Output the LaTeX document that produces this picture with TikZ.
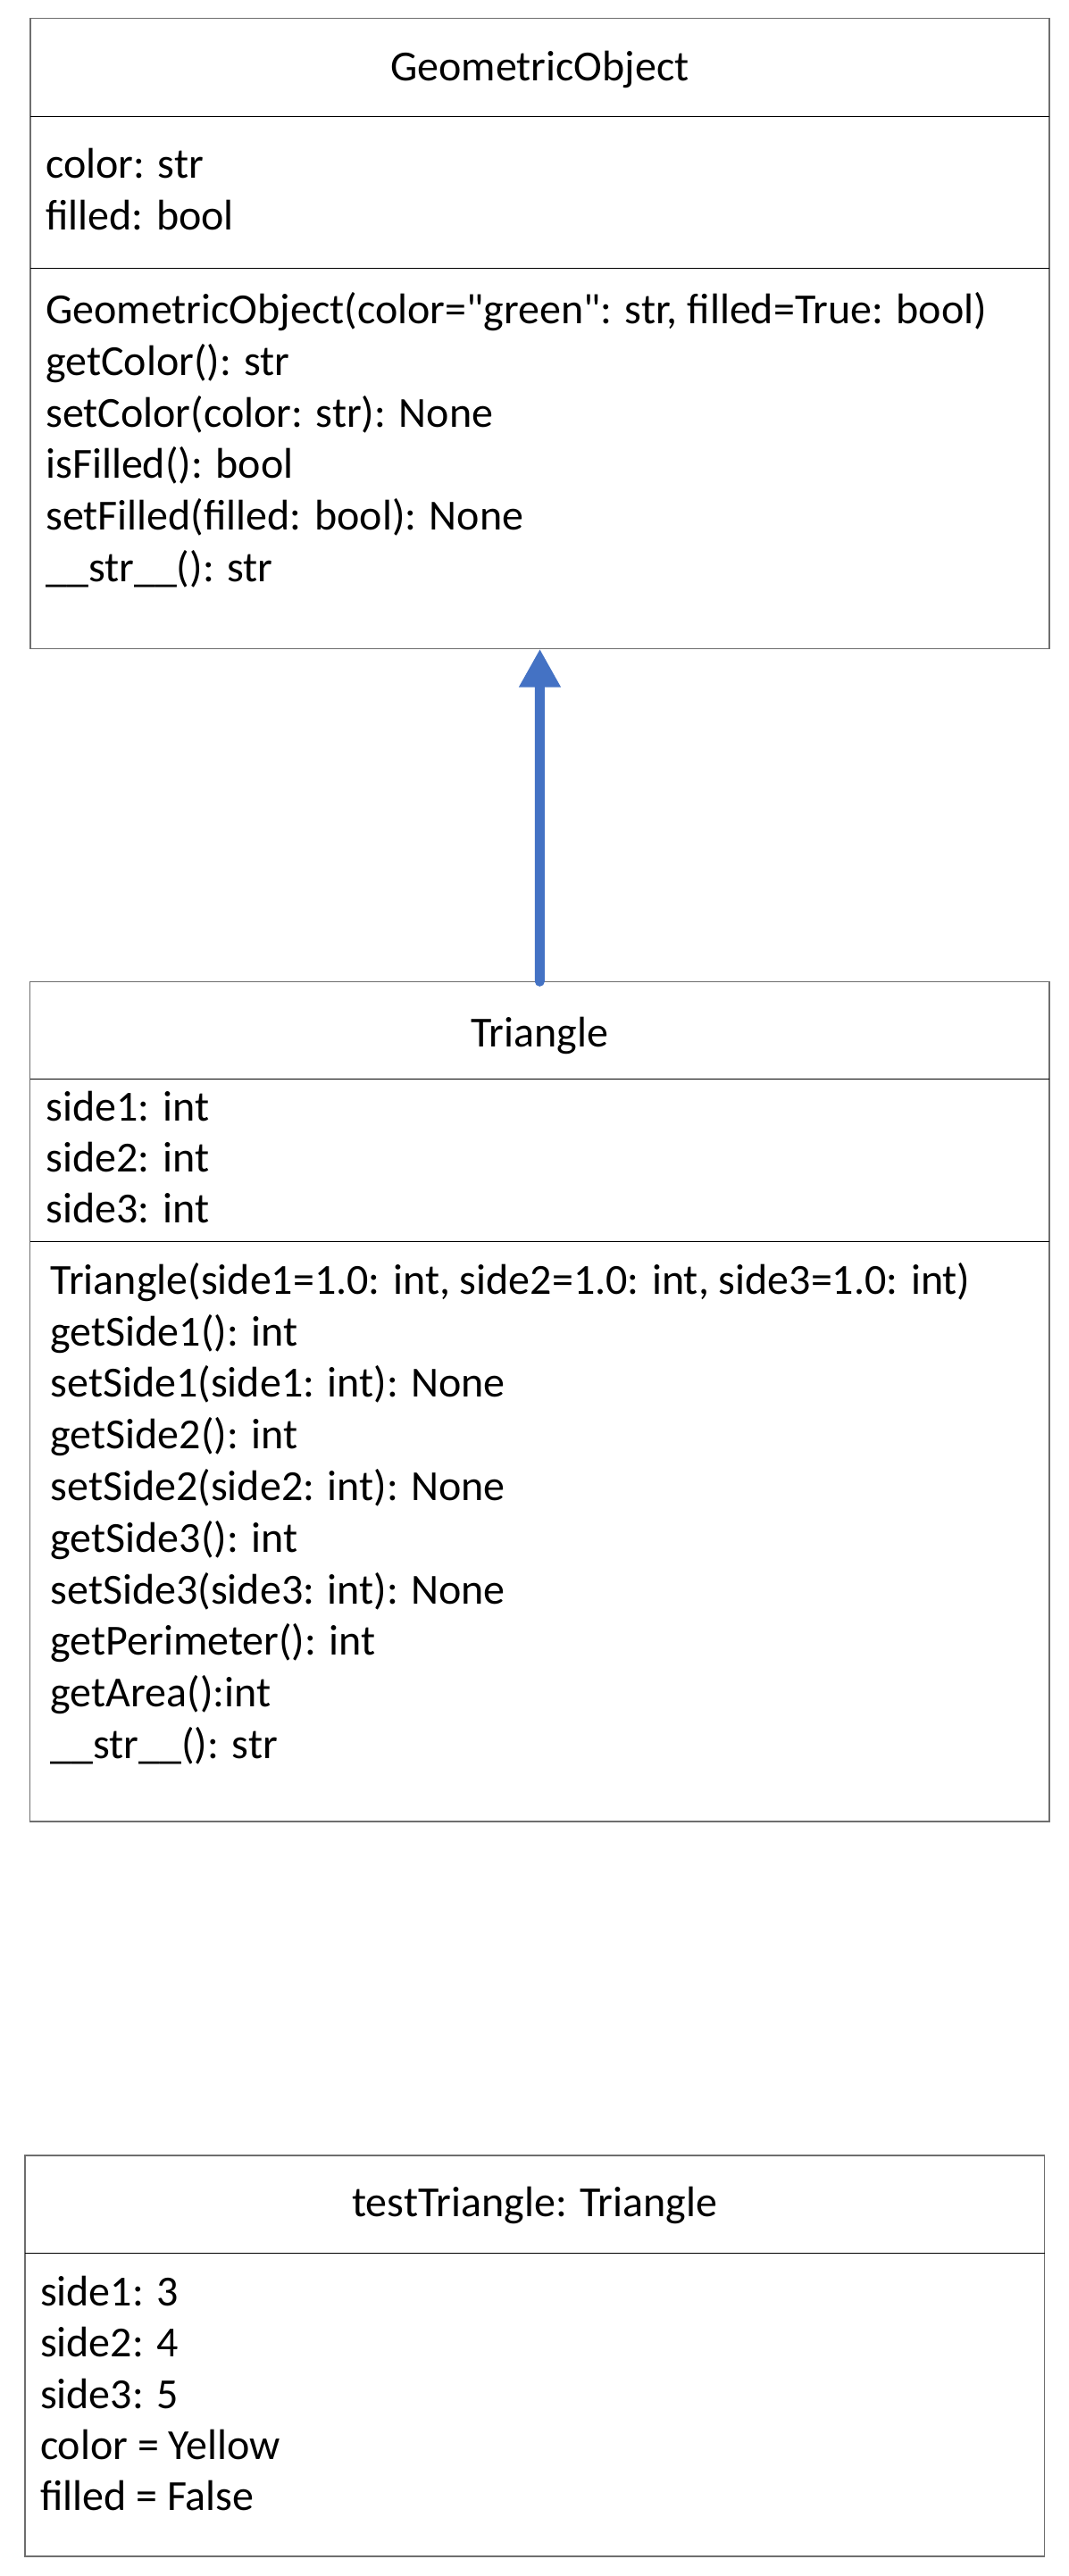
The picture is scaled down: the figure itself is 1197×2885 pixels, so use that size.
\documentclass[tikz,border=0pt]{standalone}
\usepackage{fontspec}
\newfontfamily\carl{Carlito}
\usetikzlibrary{arrows.meta}
\definecolor{umlblue}{HTML}{4472C4}
\definecolor{boxgray}{HTML}{6E6E6E}
\begin{document}
\begin{tikzpicture}[x=0.5pt,y=-0.5pt,
  umlbox/.style={draw=boxgray, line width=0.6pt, inner sep=0pt, outer sep=0pt, rectangle},
  divider/.style={draw=black, line width=0.5pt},
  txt/.style={anchor=base west, inner sep=0pt, outer sep=0pt, font=\carl\fontsize{24pt}{28.8pt}\selectfont},
  ttl/.style={anchor=base, inner sep=0pt, outer sep=0pt, font=\carl\fontsize{24pt}{28.8pt}\selectfont},
  inherit/.style={draw=umlblue, line width=5.5pt, line cap=round, -{Triangle[width=22pt,length=21.5pt]}}]
\fill[white] (0,0) rectangle (1197,2885);
\useasboundingbox (0,0) rectangle (1197,2885);

% ---------- GeometricObject ----------
\node[umlbox, minimum width=570.5pt, minimum height=353.1pt] (geo) at (604.5,373.6) {};
\draw[divider] (34,130.4) -- (1175,130.4);
\draw[divider] (34,300) -- (1175,300);
\node[ttl] (geoT) at (604.5,90.6) {GeometricObject};
\node[txt] (geoA1) at (51.3,199.6) {color: str};
\node[txt] (geoA2) at (51.3,257.6) {filled: bool};
\node[txt] (geoM1) at (51.3,362.5) {GeometricObject(color="green": str, filled=True: bool)};
\node[txt] (geoM2) at (51.3,420.3) {getColor(): str};
\node[txt] (geoM3) at (51.3,478.1) {setColor(color: str): None};
\node[txt] (geoM4) at (51.3,535.9) {isFilled(): bool};
\node[txt] (geoM5) at (51.3,593.7) {setFilled(filled: bool): None};
\node[txt] (geoM6) at (51.3,651.5) {\_\_str\_\_(): str};

% ---------- Triangle ----------
\node[umlbox, minimum width=570.65pt, minimum height=470.35pt] (tri) at (604.35,1569.65) {};
\draw[divider] (33.7,1208.3) -- (1175,1208.3);
\draw[divider] (33.7,1390) -- (1175,1390);
\node[ttl] (triT) at (604.35,1172) {Triangle};
\node[txt] (triA1) at (51.7,1255.7) {side1: int};
\node[txt] (triA2) at (51.7,1312.7) {side2: int};
\node[txt] (triA3) at (51.7,1369.3) {side3: int};
\node[txt] (triM1) at (56.7,1449.3) {Triangle(side1=1.0: int, side2=1.0: int, side3=1.0: int)};
\node[txt] (triM2) at (56.7,1507.1) {getSide1(): int};
\node[txt] (triM3) at (56.7,1564.9) {setSide1(side1: int): None};
\node[txt] (triM4) at (56.7,1622.7) {getSide2(): int};
\node[txt] (triM5) at (56.7,1680.5) {setSide2(side2: int): None};
\node[txt] (triM6) at (56.7,1738.3) {getSide3(): int};
\node[txt] (triM7) at (56.7,1796.1) {setSide3(side3: int): None};
\node[txt] (triM8) at (56.7,1853.9) {getPerimeter(): int};
\node[txt] (triM9) at (56.7,1911.7) {getArea():int};
\node[txt] (triM10) at (56.7,1969.5) {\_\_str\_\_(): str};

% ---------- testTriangle object ----------
\node[umlbox, minimum width=570.75pt, minimum height=224.5pt] (obj) at (598.75,2638.5) {};
\draw[divider] (28,2523.3) -- (1169.5,2523.3);
\node[ttl] (objT) at (598.75,2482) {testTriangle: Triangle};
\node[txt] (objA1) at (45,2582.7) {side1: 3};
\node[txt] (objA2) at (45,2639.9) {side2: 4};
\node[txt] (objA3) at (45,2697.1) {side3: 5};
\node[txt] (objA4) at (45,2754.4) {color = Yellow};
\node[txt] (objA5) at (45,2811.7) {filled = False};

% ---------- inheritance arrow ----------
\draw[inherit] (tri.north) -- (geo.south);
\end{tikzpicture}
\end{document}
